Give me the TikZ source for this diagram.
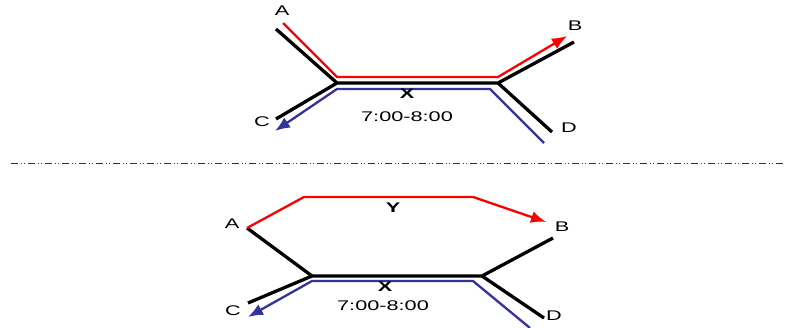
\documentclass[tikz,border=0pt]{standalone}
\usepackage{fontspec}
\setmainfont{Liberation Sans}
\usepackage{tikz}
\usetikzlibrary{arrows.meta,calc}
\definecolor{ink}    {HTML}{000000}
\definecolor{routeup}{HTML}{FF0000}
\definecolor{routedn}{HTML}{333399}
\tikzset{
  >=stealth,
  % --- nodes
  lbl/.style    = {font=\fontsize{14}{16}\selectfont, text=ink, inner sep=0pt, transform shape, xscale=1.55},
  lblb/.style   = {lbl, font=\fontsize{14}{16}\selectfont\bfseries},
  % --- edges
  road/.style   = {draw=ink, line width=3.3pt, line join=miter},
  up/.style     = {draw=routeup, line width=2.3pt},
  dn/.style     = {draw=routedn, line width=2.3pt},
  tipped/.style = {-{Latex[length=15pt,width=12pt]}},
  split/.style  = {draw=ink!80, line width=1pt, dash pattern=on 7pt off 3pt on 1pt off 2pt on 1pt off 3pt},
}
\begin{document}
\begin{tikzpicture}[x=1pt,y=-1pt]
  \useasboundingbox (0,0) rectangle (786,328);
  % --- upper
  \coordinate (ta) at (276,29);  \coordinate (tp) at (337,83);
  \coordinate (tq) at (498,83);  \coordinate (tb) at (574,42);
  \coordinate (tc) at (276,119); \coordinate (td) at (552,132);
  \coordinate (tr0) at (283,23); \coordinate (tr1) at (337,77);
  \coordinate (tr2) at (498,77); \coordinate (tr3) at (567,36);
  \coordinate (tl0) at (544,143); \coordinate (tl1) at (490,89);
  \coordinate (tl2) at (337,89);  \coordinate (tl3) at (275,131);
  \draw[road] (ta)--(tp); \draw[road] (tc)--(tp)--(tq)--(tb); \draw[road] (tq)--(td);
  \draw[up,tipped] (tr0)--(tr1)--(tr2)--(tr3);
  \draw[dn,tipped] (tl0)--(tl1)--(tl2)--(tl3);
  \node[lbl]  (tA) at (282,11)  {A};
  \node[lbl]  (tB) at (575,26)  {B};
  \node[lbl]  (tC) at (262,122) {C};
  \node[lbl]  (tD) at (569,128) {D};
  \node[lblb] (tX) at (407,94)  {X};
  \node[lbl]  (tT) at (407,117) {7:00-8:00};
  % --- divider
  \coordinate (s0) at (11,164); \coordinate (s1) at (786,164);
  \draw[split] (s0)--(s1);
  % --- lower
  \coordinate (ba) at (247,228); \coordinate (bp) at (312,276);
  \coordinate (bq) at (482,276); \coordinate (bb) at (553,238);
  \coordinate (bc) at (248,303); \coordinate (bd) at (544,318);
  \coordinate (br1) at (304,197); \coordinate (br2) at (473,197);
  \coordinate (br3) at (546,222);
  \coordinate (bl0) at (530,328); \coordinate (bl1) at (473,281);
  \coordinate (bl2) at (312,281); \coordinate (bl3) at (248,317);
  \draw[road] (ba)--(bp); \draw[road] (bc)--(bp)--(bq)--(bb); \draw[road] (bq)--(bd);
  \draw[up,tipped] (ba)--(br1)--(br2)--(br3);
  \draw[dn,tipped] (bl0)--(bl1)--(bl2)--(bl3);
  \node[lbl]  (bA) at (232,224) {A};
  \node[lbl]  (bB) at (562,227) {B};
  \node[lbl]  (bC) at (233,311) {C};
  \node[lbl]  (bD) at (554,316) {D};
  \node[lblb] (bX) at (385,287) {X};
  \node[lblb] (bY) at (393,208) {Y};
  \node[lbl]  (bT) at (383,306) {7:00-8:00};
\end{tikzpicture}
\end{document}
